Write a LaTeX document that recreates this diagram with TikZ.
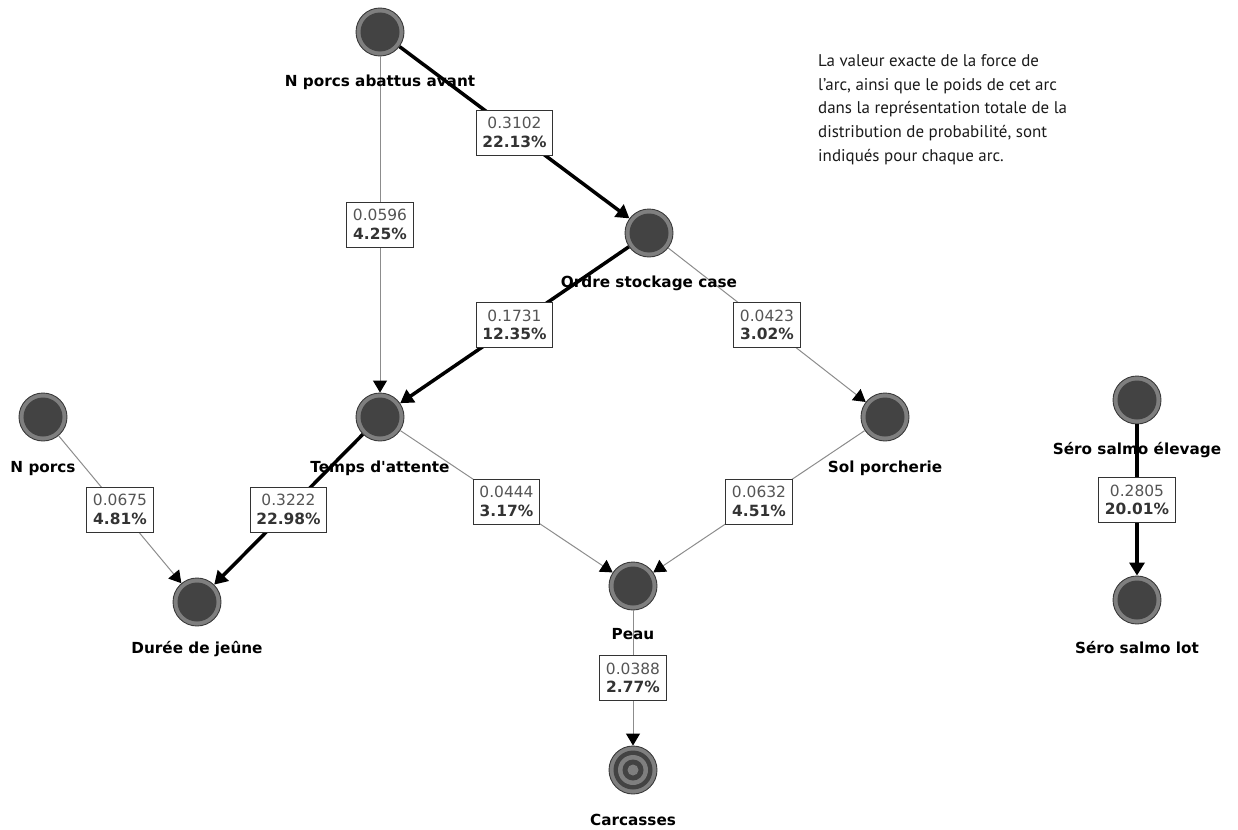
\documentclass[tikz,border=0pt]{standalone}
\usepackage{fontspec}
\setmainfont{DejaVu Sans}
\newfontfamily\notefont{PT Sans}
\usetikzlibrary{arrows.meta}
\definecolor{ringgray}{HTML}{7F7F7F}
\definecolor{darkfill}{HTML}{434343}
\definecolor{outline}{HTML}{3A3A3A}
\definecolor{thingray}{HTML}{8C8C8C}
\definecolor{boxtop}{HTML}{555555}
\definecolor{boxbot}{HTML}{333333}
\definecolor{notecol}{HTML}{1A1A1A}
\tikzset{
  bnode/.style={circle, minimum size=48bp, inner sep=0pt, fill=ringgray, draw=outline, line width=0.9bp,
    path picture={\fill[darkfill] (path picture bounding box.center) circle (19.5bp);}},
  tnode/.style={circle, minimum size=48bp, inner sep=0pt, fill=ringgray, draw=outline, line width=0.9bp,
    path picture={
      \fill[darkfill] (path picture bounding box.center) circle (19.5bp);
      \fill[ringgray] (path picture bounding box.center) circle (15bp);
      \fill[darkfill] (path picture bounding box.center) circle (10.5bp);
      \fill[ringgray] (path picture bounding box.center) circle (5.5bp);}},
  nlabel/.style={anchor=base, inner sep=0pt, font=\fontsize{15.3}{18}\selectfont\bfseries, text=black},
  thinedge/.style={draw=thingray, line width=1bp, -{Triangle[color=black,length=12bp,width=14bp]}},
  thickedge/.style={draw=black, line width=3.5bp, -{Triangle[length=13bp,width=15bp]}},
  wbox/.style={pos=0.5, draw=boxbot, line width=1bp, fill=white, align=center, inner xsep=6bp, inner ysep=4bp,
    minimum height=45bp, font=\fontsize{15.5}{18.5}\selectfont},
}
\newcommand{\bx}[2]{{\color{boxtop}#1}\\{\color{boxbot}\bfseries #2}}
\begin{document}
\begin{tikzpicture}[x=1bp,y=-1bp]
\useasboundingbox (0,0) rectangle (1238,830);
% nodes
\node[bnode] (npa) at (380,32) {};
\node[bnode] (osc) at (649,233) {};
\node[bnode] (ta) at (380,417) {};
\node[bnode] (sp) at (885,417) {};
\node[bnode] (np) at (43,417) {};
\node[bnode] (dj) at (197,602) {};
\node[bnode] (peau) at (633,586) {};
\node[tnode] (carc) at (633,770) {};
\node[bnode] (sse) at (1137,400) {};
\node[bnode] (ssl) at (1137,600) {};
% edges
\draw[thickedge] (npa) -- node[wbox] (e1) {\bx{0.3102}{22.13\%}} (osc);
\draw[thinedge] (npa) -- node[wbox] (e2) {\bx{0.0596}{4.25\%}} (ta);
\draw[thickedge] (osc) -- node[wbox] (e3) {\bx{0.1731}{12.35\%}} (ta);
\draw[thinedge] (osc) -- node[wbox] (e4) {\bx{0.0423}{3.02\%}} (sp);
\draw[thinedge] (np) -- node[wbox] (e5) {\bx{0.0675}{4.81\%}} (dj);
\draw[thickedge] (ta) -- node[wbox] (e6) {\bx{0.3222}{22.98\%}} (dj);
\draw[thinedge] (ta) -- node[wbox] (e7) {\bx{0.0444}{3.17\%}} (peau);
\draw[thinedge] (sp) -- node[wbox] (e8) {\bx{0.0632}{4.51\%}} (peau);
\draw[thinedge] (peau) -- node[wbox] (e9) {\bx{0.0388}{2.77\%}} (carc);
\draw[thickedge] (sse) -- node[wbox] (e10) {\bx{0.2805}{20.01\%}} (ssl);
% labels
\node[nlabel] (npa-l) at ([yshift=-54bp]npa.center) {N porcs abattus avant};
\node[nlabel] (osc-l) at ([yshift=-54bp]osc.center) {Ordre stockage case};
\node[nlabel] (ta-l) at ([yshift=-55bp]ta.center) {Temps d\textquotesingle attente};
\node[nlabel] (sp-l) at ([yshift=-55bp]sp.center) {Sol porcherie};
\node[nlabel] (np-l) at ([yshift=-55bp]np.center) {N porcs};
\node[nlabel] (dj-l) at ([yshift=-51bp]dj.center) {Durée de jeûne};
\node[nlabel] (peau-l) at ([yshift=-53bp]peau.center) {Peau};
\node[nlabel] (carc-l) at ([yshift=-55bp]carc.center) {Carcasses};
\node[nlabel] (sse-l) at ([yshift=-54bp]sse.center) {Séro salmo élevage};
\node[nlabel] (ssl-l) at ([yshift=-53bp]ssl.center) {Séro salmo lot};
% note
\node[anchor=north west, inner sep=0pt, align=left, text=notecol,
  font=\notefont\fontsize{17}{24}\selectfont] (note) at (818,54)
  {La valeur exacte de la force de\\
   l’arc, ainsi que le poids de cet arc\\
   dans la représentation totale de la\\
   distribution de probabilité, sont\\
   indiqués pour chaque arc.};
\end{tikzpicture}
\end{document}
